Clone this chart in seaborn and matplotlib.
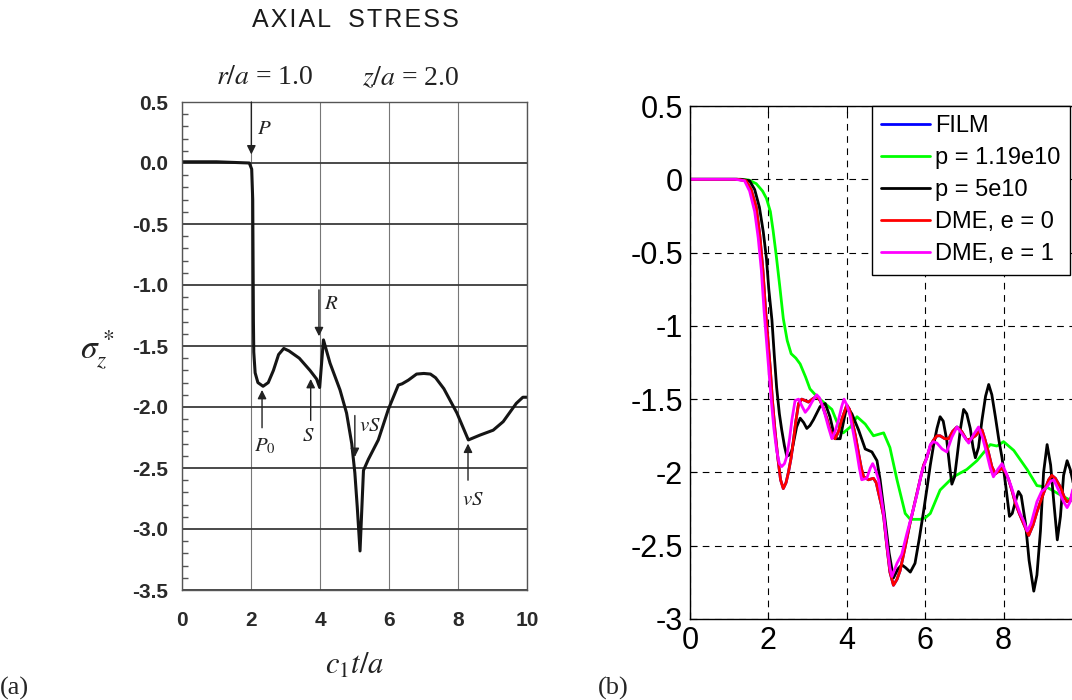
import matplotlib
matplotlib.use("Agg")
import matplotlib.pyplot as plt
import seaborn as sns
import pandas as pd

# ---------------- Panel (a): axial stress (scanned reference) ----------------
a_x = [0.0, 1.0, 1.95, 2.02, 2.05, 2.06, 2.07, 2.08, 2.12, 2.2, 2.35, 2.5, 2.65, 2.8, 2.95,
       3.1, 3.4, 3.71, 3.9, 3.99, 4.1, 4.29, 4.58, 4.77, 4.92, 5.01, 5.08, 5.16, 5.26,
       5.4, 5.69, 5.98, 6.27, 6.38, 6.56, 6.8, 7.01, 7.2, 7.35, 7.59, 7.97, 8.3, 8.64,
       9.02, 9.31, 9.69, 9.88, 10.0]
a_y = [0.01, 0.01, 0.0, -0.05, -0.3, -0.8, -1.3, -1.55, -1.72, -1.8, -1.83, -1.8, -1.7, -1.57, -1.52,
       -1.54, -1.6, -1.70, -1.77, -1.84, -1.45, -1.64, -1.86, -2.05, -2.3, -2.54, -2.82, -3.18, -2.52,
       -2.43, -2.27, -2.02, -1.82, -1.81, -1.78, -1.73, -1.725, -1.73, -1.76, -1.85, -2.05, -2.27, -2.23,
       -2.19, -2.12, -1.97, -1.92, -1.92]
a_xticks = [0, 2, 4, 6, 8, 10]
a_yticks = [0.5, 0.0, -0.5, -1.0, -1.5, -2.0, -2.5, -3.0, -3.5]
# annotation: label, arrow x, arrow tip y, arrow tail y, label x, label y
a_notes = [
    ("$P$", 2.01, 0.07, 0.5, 2.38, 0.28),
    ("$R$", 3.97, -1.42, -1.04, 4.33, -1.15),
    ("$P_{\\mathrm{0}}$", 2.32, -1.86, -2.17, 2.41, -2.32),
    ("$S$", 3.73, -1.77, -2.11, 3.66, -2.23),
    ("$vS$", 5.01, -2.41, -2.07, 5.45, -2.15),
    ("$vS$", 8.29, -2.30, -2.60, 8.42, -2.76),
]

# ---------------- Panel (b): simulation comparison ----------------
dme0_x = [0, 1.2, 1.43, 1.56, 1.69, 1.78, 1.86, 1.93, 1.99, 2.05, 2.1, 2.17, 2.24, 2.31, 2.38,
          2.45, 2.51, 2.58, 2.64, 2.7, 2.77, 2.85, 2.94, 3.02, 3.12, 3.23, 3.32, 3.40, 3.5, 3.57,
          3.70, 3.79, 3.87, 4.0, 4.07, 4.13, 4.22, 4.30, 4.37, 4.43, 4.55, 4.68, 4.75, 4.81, 4.88,
          4.94, 5.02, 5.1, 5.19, 5.28, 5.36, 5.48, 5.61, 5.74, 5.87, 5.96, 6.04, 6.13, 6.21, 6.3,
          6.38, 6.5, 6.6, 6.7, 6.81, 6.93, 7.06, 7.17, 7.28, 7.38, 7.45, 7.53, 7.62, 7.7, 7.79,
          7.88, 7.96, 8.05, 8.13, 8.22, 8.30, 8.4, 8.51, 8.64, 8.75, 8.85, 8.94, 9.05, 9.15, 9.23,
          9.32, 9.45, 9.55, 9.62, 9.7, 9.76, 9.85, 10.0]
dme0_y = [0, 0, -0.01, -0.07, -0.19, -0.38, -0.62, -0.9, -1.1, -1.3, -1.5, -1.72, -1.9, -2.05, -2.11,
          -2.07, -2.0, -1.9, -1.78, -1.65, -1.53, -1.50, -1.51, -1.52, -1.5, -1.48, -1.51, -1.56, -1.64, -1.71,
          -1.77, -1.72, -1.64, -1.54, -1.57, -1.64, -1.75, -1.87, -1.97, -2.03, -2.05, -2.04, -2.07, -2.14, -2.22,
          -2.30, -2.5, -2.68, -2.77, -2.73, -2.67, -2.52, -2.35, -2.2, -2.05, -1.95, -1.9, -1.82, -1.78, -1.75,
          -1.75, -1.77, -1.77, -1.72, -1.69, -1.72, -1.78, -1.77, -1.75, -1.72, -1.71, -1.78, -1.87, -1.96, -2.01,
          -1.99, -1.97, -2.0, -2.05, -2.13, -2.21, -2.28, -2.35, -2.43, -2.36, -2.27, -2.2, -2.12, -2.05, -2.02,
          -2.04, -2.10, -2.17, -2.2, -2.19, -2.14, -2.1, -2.12]
film_x = list(dme0_x)
film_y = list(dme0_y)

p119_x = [0, 1.2, 1.5, 1.69, 1.85, 1.95, 2.05, 2.12, 2.2, 2.29, 2.38, 2.48, 2.58, 2.7, 2.81,
          2.95, 3.06, 3.23, 3.40, 3.62, 3.83, 3.91, 4.09, 4.26, 4.47, 4.68, 4.94, 5.1, 5.28, 5.49,
          5.62, 5.87, 6.0, 6.13, 6.38, 6.72, 7.06, 7.32, 7.66, 7.83, 8.0, 8.26, 8.6, 8.85, 9.1,
          9.36, 9.7, 10.0]
p119_y = [0, 0, -0.005, -0.03, -0.08, -0.13, -0.22, -0.35, -0.52, -0.73, -0.95, -1.1, -1.19, -1.22, -1.26,
          -1.35, -1.43, -1.48, -1.52, -1.57, -1.71, -1.73, -1.69, -1.62, -1.67, -1.75, -1.73, -1.83, -2.05, -2.28,
          -2.32, -2.32, -2.31, -2.28, -2.12, -2.03, -1.98, -1.92, -1.81, -1.82, -1.79, -1.85, -1.98, -2.09, -2.10,
          -2.14, -2.19, -2.2]

p5_x = [0, 1.3, 1.52, 1.65, 1.77, 1.87, 1.95, 2.01, 2.09, 2.15, 2.21, 2.28, 2.34, 2.41, 2.47,
        2.54, 2.6, 2.66, 2.72, 2.81, 2.9, 2.98, 3.06, 3.15, 3.32, 3.45, 3.57, 3.70, 3.83, 3.92,
        4.0, 4.13, 4.30, 4.47, 4.64, 4.77, 4.85, 4.98, 5.08, 5.19, 5.3, 5.4, 5.5, 5.62, 5.74,
        5.85, 5.95, 6.05, 6.13, 6.21, 6.3, 6.38, 6.46, 6.55, 6.62, 6.68, 6.75, 6.81, 6.9, 6.98,
        7.06, 7.15, 7.22, 7.28, 7.36, 7.45, 7.54, 7.62, 7.7, 7.79, 7.88, 7.96, 8.05, 8.15, 8.22,
        8.3, 8.38, 8.45, 8.56, 8.65, 8.77, 8.85, 8.94, 9.02, 9.11, 9.2, 9.28, 9.37, 9.45, 9.53,
        9.62, 9.7, 9.76, 9.85, 10.0]
p5_y = [0, 0, -0.01, -0.07, -0.19, -0.36, -0.54, -0.75, -0.96, -1.2, -1.42, -1.6, -1.71, -1.82, -1.89,
        -1.88, -1.85, -1.77, -1.69, -1.63, -1.66, -1.7, -1.68, -1.64, -1.55, -1.53, -1.62, -1.77, -1.77, -1.65,
        -1.55, -1.6, -1.71, -1.84, -1.86, -1.92, -2.05, -2.33, -2.55, -2.72, -2.66, -2.63, -2.65, -2.68, -2.62,
        -2.45, -2.28, -2.1, -1.95, -1.82, -1.7, -1.62, -1.65, -1.78, -1.95, -2.08, -2.03, -1.9, -1.7, -1.57,
        -1.6, -1.7, -1.83, -1.9, -1.83, -1.64, -1.48, -1.40, -1.47, -1.62, -1.78, -1.9, -2.08, -2.3, -2.28,
        -2.2, -2.13, -2.16, -2.35, -2.6, -2.81, -2.7, -2.4, -2.0, -1.81, -1.95, -2.2, -2.46, -2.3, -2.02,
        -1.92, -1.98, -2.05, -2.2, -2.1]

dme1_x = [0, 1.15, 1.39, 1.52, 1.65, 1.74, 1.82, 1.89, 1.95, 2.01, 2.07, 2.14, 2.21, 2.28, 2.34,
          2.41, 2.47, 2.54, 2.6, 2.68, 2.77, 2.86, 2.94, 3.03, 3.11, 3.23, 3.3, 3.36, 3.45, 3.53,
          3.62, 3.7, 3.79, 3.87, 3.93, 4.0, 4.09, 4.18, 4.26, 4.32, 4.38, 4.51, 4.6, 4.66, 4.73,
          4.81, 4.88, 4.94, 5.03, 5.1, 5.15, 5.28, 5.40, 5.53, 5.66, 5.79, 5.91, 6.04, 6.13, 6.21,
          6.3, 6.43, 6.55, 6.68, 6.81, 6.95, 7.11, 7.24, 7.36, 7.46, 7.57, 7.66, 7.74, 7.85, 7.96,
          8.09, 8.2, 8.30, 8.42, 8.51, 8.6, 8.7, 8.85, 8.97, 9.1, 9.2, 9.28, 9.4, 9.53, 9.62,
          9.7, 9.76, 9.88, 10.0]
dme1_y = [0, 0, -0.01, -0.08, -0.22, -0.4, -0.62, -0.9, -1.1, -1.3, -1.5, -1.7, -1.85, -1.94, -1.96,
          -1.94, -1.89, -1.77, -1.64, -1.51, -1.50, -1.55, -1.59, -1.56, -1.52, -1.47, -1.49, -1.53, -1.61, -1.69,
          -1.77, -1.72, -1.64, -1.55, -1.50, -1.54, -1.62, -1.75, -1.87, -1.97, -2.05, -2.04, -1.97, -1.94, -1.98,
          -2.05, -2.17, -2.28, -2.5, -2.65, -2.71, -2.62, -2.56, -2.42, -2.29, -2.15, -2.0, -1.9, -1.81, -1.79,
          -1.8, -1.84, -1.86, -1.76, -1.69, -1.74, -1.80, -1.74, -1.69, -1.76, -1.87, -1.97, -2.03, -1.98, -1.94,
          -2.02, -2.1, -2.19, -2.28, -2.33, -2.40, -2.35, -2.2, -2.13, -2.1, -2.06, -2.05, -2.12, -2.2, -2.24,
          -2.2, -2.12, -2.06, -2.08]

b_series = [
    ("FILM", film_x, film_y, "#0000ff"),
    ("p = 1.19e10", p119_x, p119_y, "#00ff00"),
    ("p = 5e10", p5_x, p5_y, "#000000"),
    ("DME, e = 0", dme0_x, dme0_y, "#ff0000"),
    ("DME, e = 1", dme1_x, dme1_y, "#ff00ff"),
]
b_xticks = [0, 2, 4, 6, 8, 10]
b_xticklabels = ["0", "2", "4", "6", "8", ""]   # the "10" falls outside the cropped picture
b_yticks = [0.5, 0, -0.5, -1, -1.5, -2, -2.5, -3]
b_yticklabels = ["0.5", "0", "-0.5", "-1", "-1.5", "-2", "-2.5", "-3"]

# ---------------- Styling ----------------
sns.set_theme(style="white")
plt.rcParams["font.family"] = ["Liberation Sans", "DejaVu Sans"]
plt.rcParams["mathtext.fontset"] = "stix"
plt.rcParams["axes.unicode_minus"] = False

W, H = 1072, 700
fig = plt.figure(figsize=(W / 100, H / 100), dpi=100)
fig.patch.set_facecolor("white")

# ---- panel (a)
axa = fig.add_axes([182 / W, 1 - 590 / H, 345 / W, 488 / H])
dfa = pd.DataFrame({"x": a_x, "y": a_y})
sns.lineplot(data=dfa, x="x", y="y", ax=axa, color="#151515", lw=2.2,
             estimator=None, sort=False)
axa.set_xlim(0, 10)
axa.set_ylim(-3.5, 0.5)
axa.set_xticks(a_xticks)
axa.set_xticklabels([str(v) for v in a_xticks])
axa.set_yticks(a_yticks)
axa.set_yticklabels([f"{v:.1f}" for v in a_yticks])
axa.set_xlabel("")
axa.set_ylabel("")
axa.grid(True, axis="y", color="#3a3a3a", lw=1.3)
axa.grid(True, axis="x", color="#777777", lw=0.8)
axa.set_axisbelow(True)
for s in axa.spines.values():
    s.set_color("#555555")
    s.set_linewidth(1.0)
axa.tick_params(axis="both", length=0, labelsize=15, colors="#2a2a2a")
axa.tick_params(axis="x", pad=15)
axa.tick_params(axis="y", pad=10)
axa.set_yticks([v / 10 for v in range(-35, 6)], minor=True)
axa.tick_params(axis="y", which="minor", direction="in", length=4, color="#555555", left=True)
for lab in axa.get_xticklabels() + axa.get_yticklabels():
    lab.set_fontweight("bold")

for lab, ax_x, tip_y, tail_y, lx, ly in a_notes:
    axa.annotate("", xy=(ax_x, tip_y), xytext=(ax_x, tail_y),
                 arrowprops=dict(arrowstyle="-|>", color="#222222", lw=1.0,
                                 mutation_scale=13, shrinkA=0, shrinkB=0))
    axa.text(lx, ly, lab, fontsize=15, color="#222222", ha="center", va="center")

serif = ["Liberation Serif", "DejaVu Serif"]
fig.text(355 / W, 1 - 20 / H,
         "A\u200aX\u200aI\u200aA\u200aL\u2009\u2009 S\u200aT\u200aR\u200aE\u200aS\u200aS",
         fontsize=18, color="#1a1a1a", ha="center", va="center",
         family=["Liberation Sans", "DejaVu Sans"])
fig.text(265 / W, 1 - 78 / H, "$r/a$ = 1.0", fontsize=20, family=serif,
         ha="center", va="center", color="#222222")
fig.text(411 / W, 1 - 78 / H, "$z/a$ = 2.0", fontsize=20, family=serif,
         ha="center", va="center", color="#222222")
fig.text(97 / W, 1 - 350 / H, r"$\sigma_z^*$", fontsize=24, ha="center", va="center",
         color="#222222")
fig.text(355 / W, 1 - 666 / H, r"$c_1t/a$", fontsize=22, ha="center", va="center",
         color="#222222")
fig.text(0 / W, 1 - 688 / H, "(a)", fontsize=19, family=serif, ha="left", va="center")
fig.text(598 / W, 1 - 688 / H, "(b)", fontsize=19, family=serif, ha="left", va="center")

# ---- panel (b)
axb = fig.add_axes([690 / W, 1 - 619 / H, 392 / W, 513 / H])
for name, xs, ys, col in b_series:
    dfb = pd.DataFrame({"x": xs, "y": ys})
    sns.lineplot(data=dfb, x="x", y="y", ax=axb, color=col, lw=2.0, label=name,
                 estimator=None, sort=False)
axb.set_xlim(0, 10)
axb.set_ylim(-3, 0.5)
axb.set_xticks(b_xticks)
axb.set_xticklabels(b_xticklabels)
axb.set_yticks(b_yticks)
axb.set_yticklabels(b_yticklabels)
axb.set_xlabel("")
axb.set_ylabel("")
axb.grid(True, color="black", lw=0.8, linestyle=(0, (6, 5)))
axb.set_axisbelow(True)
for s in axb.spines.values():
    s.set_color("black")
    s.set_linewidth(1.0)
axb.tick_params(axis="both", direction="in", length=5, width=0.8, color="black",
                top=True, right=True, bottom=True, left=True,
                labelsize=22, labelcolor="black", pad=5)
leg = axb.legend(loc="upper left", bbox_to_anchor=(0.464, 1.0), borderaxespad=0,
                 frameon=True, fancybox=False, framealpha=1, edgecolor="black",
                 fontsize=17, labelspacing=0.42, handlelength=2.07,
                 handletextpad=0.2, borderpad=0.4)
leg.get_frame().set_linewidth(1.0)
for t in leg.get_texts():
    t.set_color("black")

fig.savefig("out.png", dpi=100, facecolor="white")
